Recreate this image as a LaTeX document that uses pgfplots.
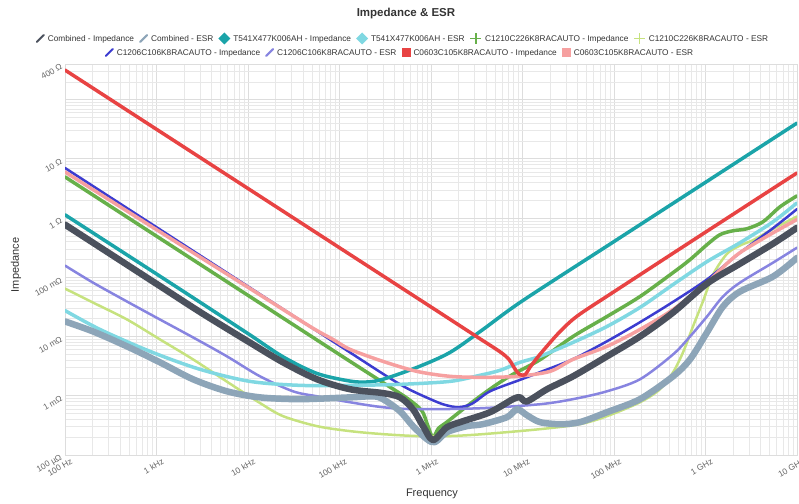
\documentclass[border=0pt]{standalone}
\usepackage{fontspec}
\setmainfont{Liberation Sans}
\usepackage{graphicx}
\usepackage{pgfplots}
\pgfplotsset{compat=1.18}

\definecolor{combZ}{HTML}{4B515D}
\definecolor{combESR}{HTML}{8DA5B8}
\definecolor{tantZ}{HTML}{1BA4A9}
\definecolor{tantESR}{HTML}{80D8E2}
\definecolor{mlccAZ}{HTML}{67B04A}
\definecolor{mlccAESR}{HTML}{C6E27E}
\definecolor{mlccBZ}{HTML}{3C3CD0}
\definecolor{mlccBESR}{HTML}{8784E0}
\definecolor{mlccCZ}{HTML}{E84343}
\definecolor{mlccCESR}{HTML}{F6A0A0}
\definecolor{gridmaj}{HTML}{DDDDDD}
\definecolor{gridmin}{HTML}{E8E8E8}
\definecolor{ticktext}{HTML}{666666}
\definecolor{darktext}{HTML}{333333}

% legend symbols
\newcommand{\LgLine}[1]{\tikz[baseline={(0,-2.8pt)}]\draw[#1, line width=2pt, line cap=round] (-3.5pt,-3.5pt) -- (3.5pt,3.5pt);}
\newcommand{\LgDiamond}[1]{\tikz[baseline={(0,-2.8pt)}]\fill[#1] (-6pt,0) -- (0,6pt) -- (6pt,0) -- (0,-6pt) -- cycle;}
\newcommand{\LgPlus}[1]{\tikz[baseline={(0,-2.8pt)}]\draw[#1, line width=1.4pt] (-5.5pt,0) -- (5.5pt,0) (0,-5.5pt) -- (0,5.5pt);}
\newcommand{\LgSquare}[1]{\tikz[baseline={(0,-2.8pt)}]\fill[#1] (-4.5pt,-4.5pt) rectangle (4.5pt,4.5pt);}
\newcommand{\LgItem}[2]{#1\hspace{3pt}#2}
\newcommand{\LgGap}{\hspace{5pt}}

\begin{document}
\begin{tikzpicture}
\useasboundingbox (-65pt,-48pt) rectangle (734pt,455pt);
\begin{axis}[
  at={(0pt,0pt)}, anchor=south west,
  scale only axis, width=732pt, height=391pt,
  xmode=log, ymode=log,
  xmin=1e2, xmax=1e10, ymin=1e-4, ymax=400,
  axis line style={draw=gridmaj, line width=0.8pt},
  major tick length=0pt, minor tick length=0pt,
  grid=both,
  major grid style={draw=gridmaj, line width=0.8pt},
  minor grid style={draw=gridmin, line width=0.6pt},
  xtick={1e2,1e3,1e4,1e5,1e6,1e7,1e8,1e9,1e10},
  xticklabels={100 Hz,1 kHz,10 kHz,100 kHz,1 MHz,10 MHz,100 MHz,1 GHz,10 GHz},
  minor xtick={2e2,3e2,4e2,5e2,6e2,7e2,8e2,9e2,
    2e3,3e3,4e3,5e3,6e3,7e3,8e3,9e3,
    2e4,3e4,4e4,5e4,6e4,7e4,8e4,9e4,
    2e5,3e5,4e5,5e5,6e5,7e5,8e5,9e5,
    2e6,3e6,4e6,5e6,6e6,7e6,8e6,9e6,
    2e7,3e7,4e7,5e7,6e7,7e7,8e7,9e7,
    2e8,3e8,4e8,5e8,6e8,7e8,8e8,9e8,
    2e9,3e9,4e9,5e9,6e9,7e9,8e9,9e9},
  ytick={1e-4,1e-3,1e-2,1e-1,1,10,100,400},
  yticklabels={100 µΩ,1 mΩ,10 mΩ,100 mΩ,1 Ω,10 Ω,,400 Ω},
  minor ytick={2e-4,3e-4,4e-4,5e-4,6e-4,7e-4,8e-4,9e-4,
    2e-3,3e-3,4e-3,5e-3,6e-3,7e-3,8e-3,9e-3,
    2e-2,3e-2,4e-2,5e-2,6e-2,7e-2,8e-2,9e-2,
    0.2,0.3,0.4,0.5,0.6,0.7,0.8,0.9,
    2,3,4,5,6,7,8,9,
    20,30,40,50,60,70,80,90,200,300},
  xticklabel style={font=\fontsize{8.4}{10}\selectfont, text=ticktext, rotate=30, anchor=north east, inner sep=0pt, xshift=3pt, yshift=-5pt},
  yticklabel style={font=\fontsize{8.4}{10}\selectfont, text=ticktext, rotate=30, anchor=east, inner sep=0pt, xshift=-4pt},
  every axis plot/.append style={smooth, line join=round, line cap=round},
]

% C1210C226K8RACAUTO
\addplot[mlccAZ, line width=3.5pt] coordinates {
 (1e2,4.96) (1e3,0.496) (1e4,0.0496) (1e5,0.00496) (3.162e5,0.00158) (5.623e5,0.000885)
 (7.943e5,0.000559) (9.12e5,0.000329) (1.047e6,0.000198) (1.202e6,0.00028) (1.496e6,0.000361)
 (2.239e6,0.000593) (3.436e6,0.00098) (5.248e6,0.00156) (7.87e6,0.00231) (1.549e7,0.00405)
 (3.565e7,0.01003) (8.375e7,0.0218) (1.923e8,0.0474) (4.416e8,0.12) (6.776e8,0.199)
 (1.038e9,0.356) (1.439e9,0.525) (1.995e9,0.611) (2.844e9,0.662) (4.246e9,0.866)
 (6.516e9,1.551) (1e10,2.375)};
\addplot[mlccAESR, line width=2.5pt] coordinates {
 (1e2,0.0645) (2.023e2,0.0375) (4.764e2,0.0194) (1.091e3,0.00894) (2.506e3,0.00412)
 (5.888e3,0.00173) (1.352e4,0.000754) (2.415e4,0.000453) (5.675e4,0.000307) (1.303e5,0.000253)
 (2.985e5,0.000225) (7.031e5,0.000209) (1.614e6,0.000209) (3.698e6,0.000225) (1.549e7,0.000273)
 (4.246e7,0.000332) (8.375e7,0.000453) (1.923e8,0.000777) (3.162e8,0.00128) (4.416e8,0.00249)
 (5.675e8,0.0054) (7.295e8,0.0148) (9.397e8,0.0396) (1.208e9,0.111) (1.718e9,0.25)
 (2.382e9,0.345) (3.304e9,0.424) (5.47e9,0.657) (1e10,1.066)};

% C1206C106K8RACAUTO
\addplot[mlccBZ, line width=2.5pt] coordinates {
 (1e2,7.02) (1e3,0.702) (1e4,0.0702) (1e5,0.00702) (3.162e5,0.00222) (5.623e5,0.00131)
 (1e6,0.000867) (1.413e6,0.000704) (1.995e6,0.000642) (2.818e6,0.000737) (4.416e6,0.00119)
 (9.333e6,0.00185) (1.549e7,0.0025) (3.548e7,0.00415) (8.318e7,0.00827) (1.905e8,0.0173)
 (4.416e8,0.0385) (1.038e9,0.092) (2.382e9,0.26) (5.495e9,0.68) (1e10,1.42)};
\addplot[mlccBESR, line width=2.5pt] coordinates {
 (1e2,0.158) (2.023e2,0.0814) (4.764e2,0.039) (1.091e3,0.0194) (2.506e3,0.00968)
 (5.888e3,0.00463) (1.352e4,0.00213) (3.105e4,0.00119) (5.675e4,0.00098) (1.303e5,0.000777)
 (2.985e5,0.000641) (7.031e5,0.000593) (3.436e6,0.000616) (1.549e7,0.00072) (3.565e7,0.000877)
 (8.375e7,0.00119) (1.923e8,0.0019) (4.416e8,0.00499) (6.776e8,0.01003) (1.038e9,0.0218)
 (1.552e9,0.0474) (2.382e9,0.0814) (5.47e9,0.177) (1e10,0.317)};

% T541X477K006AH
\addplot[tantZ, line width=3.5pt] coordinates {
 (1e2,1.137) (1e3,0.114) (3.162e3,0.0359) (1.047e4,0.0107) (2.415e4,0.00455) (5.675e4,0.00238)
 (1.303e5,0.00177) (1.995e5,0.00171) (2.985e5,0.0019) (7.031e5,0.00302) (1.614e6,0.0054)
 (3.698e6,0.01317) (1e7,0.0402) (1e8,0.402) (1e9,4.02) (1e10,40.2)};
\addplot[tantESR, line width=3.5pt] coordinates {
 (1e2,0.0275) (2.415e2,0.01317) (8.492e2,0.00562) (2.985e3,0.0028) (1.052e4,0.00175)
 (3.698e4,0.0015) (1.303e5,0.0015) (4.581e5,0.00156) (1.614e6,0.00175) (3.436e6,0.00222)
 (5.675e6,0.00269) (9.397e6,0.00367) (1.549e7,0.00463) (3.565e7,0.00796) (8.375e7,0.0148)
 (1.923e8,0.031) (4.416e8,0.0754) (1.038e9,0.184) (2.382e9,0.384) (5.47e9,0.866) (1e10,1.81)};

% C0603C105K8RACAUTO
\addplot[mlccCESR, line width=3.5pt] coordinates {
 (1e2,6.02) (1e3,0.639) (1e4,0.0679) (4.764e4,0.0148) (8.492e4,0.00894) (1.303e5,0.00608)
 (2.985e5,0.00381) (7.031e5,0.00258) (1.614e6,0.00213) (3.698e6,0.00205) (8.71e6,0.00213)
 (1.995e7,0.00258) (3.565e7,0.00412) (8.375e7,0.00682) (1.923e8,0.01317) (4.416e8,0.0286)
 (1.038e9,0.0814) (2.382e9,0.261) (1e10,0.95)};
\addplot[mlccCZ, line width=3.5pt] coordinates {
 (1e2,316) (1e3,31.6) (1e4,3.16) (1e5,0.316) (1e6,0.0316) (3.162e6,0.00995) (5.623e6,0.00559)
 (7.079e6,0.00415) (8.318e6,0.0028) (9.333e6,0.00228) (1.072e7,0.00228) (1.202e7,0.003)
 (1.549e7,0.00498) (2.512e7,0.0117) (3.981e7,0.0223) (1e8,0.0572) (1e9,0.579) (1e10,5.79)};

% Combined
\addplot[combESR, line width=6.5pt] coordinates {
 (1e2,0.018) (2.023e2,0.0122) (4.764e2,0.00682) (1.091e3,0.00367) (2.506e3,0.0019)
 (5.888e3,0.00119) (1.352e4,0.00094) (3.698e4,0.000877) (1.303e5,0.00094) (2.323e5,0.00098)
 (2.985e5,0.000877) (4.581e5,0.000549) (6.353e5,0.000307) (9.036e5,0.000185) (1.107e6,0.000165)
 (1.496e6,0.000243) (2.472e6,0.000307) (3.698e6,0.000332) (6.761e6,0.000435) (8.71e6,0.000593)
 (1.12e7,0.000469) (1.549e7,0.000359) (2.57e7,0.000332) (4.246e7,0.000359) (8.375e7,0.000528)
 (1.923e8,0.000877) (4.416e8,0.00213) (6.776e8,0.00412) (1.038e9,0.01174) (1.552e9,0.0321)
 (2.382e9,0.0575) (5.47e9,0.103) (1e10,0.213)};
\addplot[combZ, line width=6.5pt] coordinates {
 (1e2,0.777) (1e3,0.0777) (3.162e3,0.0246) (1.052e4,0.0079) (2.415e4,0.00367) (5.675e4,0.0019)
 (1.303e5,0.00129) (2.985e5,0.00111) (4.581e5,0.00094) (6.353e5,0.000593) (8.185e5,0.000307)
 (1.052e6,0.000179) (1.496e6,0.000295) (2.239e6,0.000372) (4.416e6,0.000528) (7.87e6,0.000877)
 (9.397e6,0.00094) (1.12e7,0.000806) (1.854e7,0.00129) (3.565e7,0.00213) (8.375e7,0.00463)
 (1.923e8,0.01003) (4.416e8,0.0254) (1.038e9,0.0784) (2.382e9,0.17) (5.47e9,0.37) (1e10,0.687)};
\end{axis}

% title, axis titles and legend
\node[font=\fontsize{11.5}{13}\selectfont\bfseries, text=darktext] at (341pt,441pt) {Impedance \& ESR};
\node[font=\fontsize{11}{13}\selectfont, text=darktext] at (367pt,-39pt) {Frequency};
\node[font=\fontsize{11}{13}\selectfont, text=darktext, rotate=90] at (-49pt,190pt) {Impedance};

\node[font=\fontsize{8.3}{10}\selectfont, text=darktext, inner sep=0pt] at (337pt,416.5pt) {%
\LgItem{\LgLine{combZ}}{Combined - Impedance}\LgGap
\LgItem{\LgLine{combESR}}{Combined - ESR}\LgGap
\LgItem{\LgDiamond{tantZ}}{T541X477K006AH - Impedance}\LgGap
\LgItem{\LgDiamond{tantESR}}{T541X477K006AH - ESR}\LgGap
\LgItem{\LgPlus{mlccAZ}}{C1210C226K8RACAUTO - Impedance}\LgGap
\LgItem{\LgPlus{mlccAESR}}{C1210C226K8RACAUTO - ESR}};
\node[font=\fontsize{8.3}{10}\selectfont, text=darktext, inner sep=0pt] at (334pt,402.5pt) {%
\LgItem{\LgLine{mlccBZ}}{C1206C106K8RACAUTO - Impedance}\LgGap
\LgItem{\LgLine{mlccBESR}}{C1206C106K8RACAUTO - ESR}\LgGap
\LgItem{\LgSquare{mlccCZ}}{C0603C105K8RACAUTO - Impedance}\LgGap
\LgItem{\LgSquare{mlccCESR}}{C0603C105K8RACAUTO - ESR}};
\end{tikzpicture}
\end{document}
